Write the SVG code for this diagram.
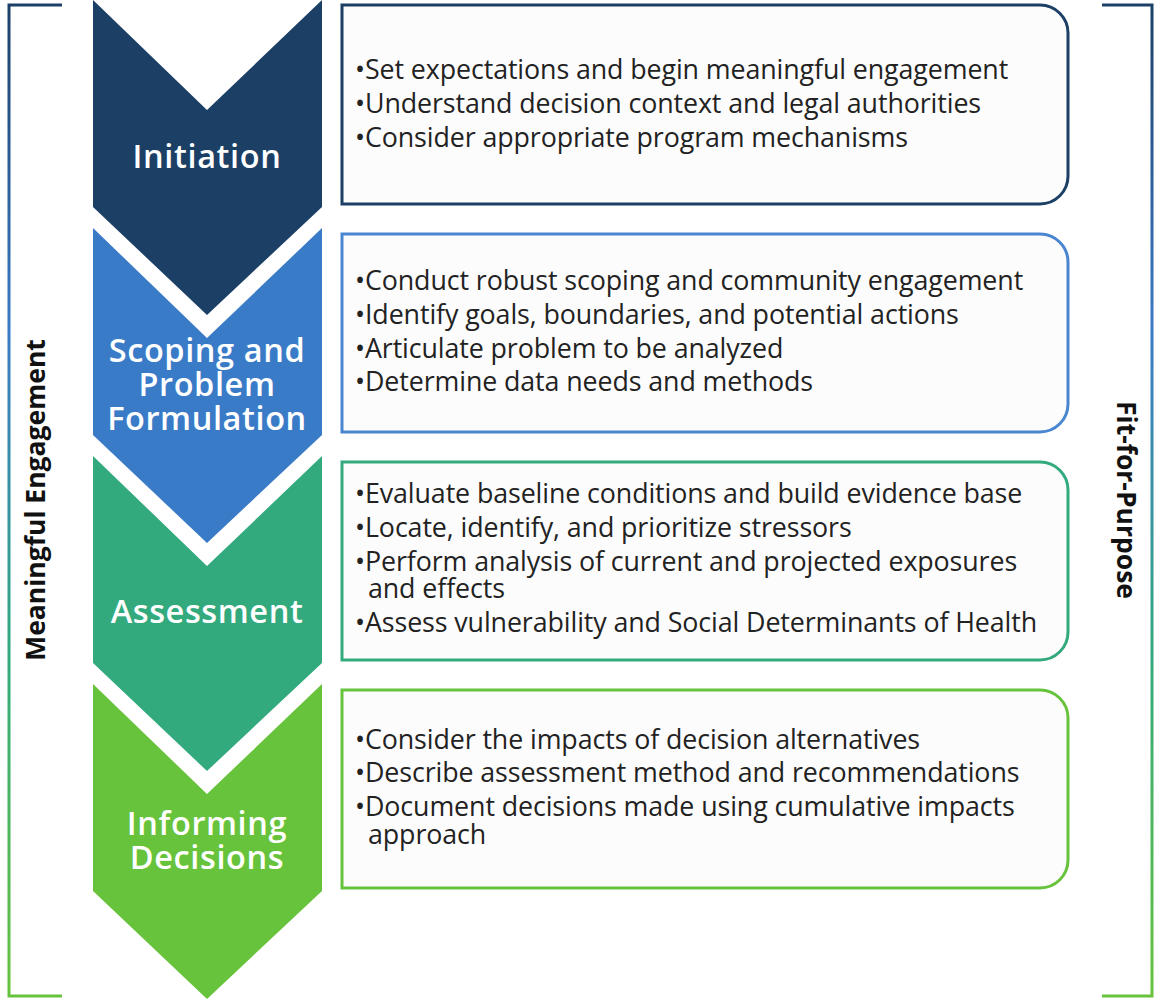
<svg xmlns="http://www.w3.org/2000/svg" width="1155" height="1000" viewBox="0 0 1155 1000">
<defs>
<linearGradient id="brk" gradientUnits="userSpaceOnUse" x1="0" y1="0" x2="0" y2="1000">
<stop offset="0" stop-color="#1c3f66"/>
<stop offset="0.33" stop-color="#3a7bc8"/>
<stop offset="0.66" stop-color="#33aa7e"/>
<stop offset="1" stop-color="#68c33c"/>
</linearGradient>
<style>
.chev-t{font-family:"Open Sans","Noto Sans",sans-serif;font-weight:600;font-size:32.5px;letter-spacing:0.6px;fill:#fff;text-anchor:middle}
.box-t{font-family:"Open Sans","Noto Sans",sans-serif;font-size:26.8px;letter-spacing:-0.1px;fill:#222}
.side{font-family:"Open Sans","Noto Sans",sans-serif;font-weight:700;font-size:26.5px;fill:#111;text-anchor:middle}
.box{stroke-width:3;fill:#fcfcfc}
.brk{fill:none;stroke:url(#brk);stroke-width:3}
</style>
</defs>
<rect width="1155" height="1000" fill="#fff"/>

<g id="bracket-left">
<path class="brk" d="M62,5 H9 V996 H62"/>
<text class="side" transform="translate(45,500) rotate(-90)">Meaningful Engagement</text>
</g>
<g id="bracket-right">
<path class="brk" d="M1102,5 H1152 V996 H1102"/>
<text class="side" transform="translate(1117,500) rotate(90)">Fit-for-Purpose</text>
</g>

<g id="chevron-initiation">
<path d="M93,0 L207,110 L322,0 V207 L207,315 L93,207 Z" fill="#1c3f66"/>
<text class="chev-t" x="207" y="168">Initiation</text>
</g>
<g id="chevron-scoping">
<path d="M93,228 L207,338 L322,228 V435 L207,543 L93,435 Z" fill="#3a7bc8"/>
<text class="chev-t" x="207" y="362">Scoping and</text>
<text class="chev-t" x="207" y="396">Problem</text>
<text class="chev-t" x="207" y="430">Formulation</text>
</g>
<g id="chevron-assessment">
<path d="M93,456 L207,566 L322,456 V663 L207,771 L93,663 Z" fill="#33aa7e"/>
<text class="chev-t" x="207" y="623">Assessment</text>
</g>
<g id="chevron-informing">
<path d="M93,684 L207,794 L322,684 V891 L207,999 L93,891 Z" fill="#68c33c"/>
<text class="chev-t" x="207" y="835">Informing</text>
<text class="chev-t" x="207" y="869">Decisions</text>
</g>

<g id="box-initiation">
<path class="box" stroke="#1c3f66" fill="#fff" d="M342,5 H1040 A28,28 0 0 1 1068,33 V176 A28,28 0 0 1 1040,204 H342 Z"/>
<text class="box-t" x="355" y="79">•Set expectations and begin meaningful engagement</text>
<text class="box-t" x="355" y="113">•Understand decision context and legal authorities</text>
<text class="box-t" x="355" y="147">•Consider appropriate program mechanisms</text>
</g>
<g id="box-scoping">
<path class="box" stroke="#4a86d0" d="M342,234 H1040 A28,28 0 0 1 1068,262 V404 A28,28 0 0 1 1040,432 H342 Z"/>
<text class="box-t" x="355" y="290">•Conduct robust scoping and community engagement</text>
<text class="box-t" x="355" y="324">•Identify goals, boundaries, and potential actions</text>
<text class="box-t" x="355" y="358">•Articulate problem to be analyzed</text>
<text class="box-t" x="355" y="391">•Determine data needs and methods</text>
</g>
<g id="box-assessment">
<path class="box" stroke="#33aa7e" d="M342,462 H1040 A28,28 0 0 1 1068,490 V632 A28,28 0 0 1 1040,660 H342 Z"/>
<text class="box-t" x="355" y="503">•Evaluate baseline conditions and build evidence base</text>
<text class="box-t" x="355" y="537">•Locate, identify, and prioritize stressors</text>
<text class="box-t" x="355" y="571">•Perform analysis of current and projected exposures</text>
<text class="box-t" x="368" y="598">and effects</text>
<text class="box-t" x="355" y="632">•Assess vulnerability and Social Determinants of Health</text>
</g>
<g id="box-informing">
<path class="box" stroke="#68c33c" d="M342,690 H1040 A28,28 0 0 1 1068,718 V860 A28,28 0 0 1 1040,888 H342 Z"/>
<text class="box-t" x="355" y="749">•Consider the impacts of decision alternatives</text>
<text class="box-t" x="355" y="782">•Describe assessment method and recommendations</text>
<text class="box-t" x="355" y="816">•Document decisions made using cumulative impacts</text>
<text class="box-t" x="368" y="844">approach</text>
</g>
<g id="connectors"/>
</svg>
